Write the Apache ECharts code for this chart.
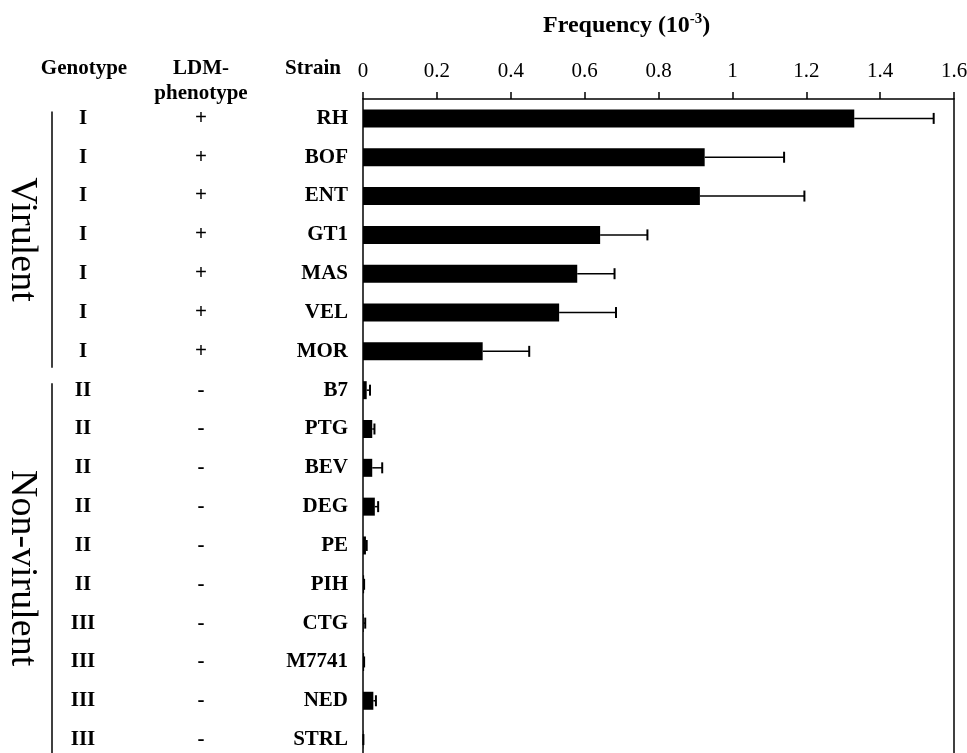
<!DOCTYPE html>
<html>
<head>
<meta charset="utf-8">
<script src="https://cdn.jsdelivr.net/npm/echarts@6/dist/echarts.min.js"></script>
<style>
html,body{margin:0;padding:0;background:#fff;}
#chart{width:967px;height:753px;}
</style>
</head>
<body>
<div id="chart"></div>
<script>
// ---- data ----
const strains = ['RH','BOF','ENT','GT1','MAS','VEL','MOR','B7','PTG','BEV','DEG','PE','PIH','CTG','M7741','NED','STRL'];
const genotypes = ['I','I','I','I','I','I','I','II','II','II','II','II','II','III','III','III','III'];
const phenotypes = ['+','+','+','+','+','+','+','-','-','-','-','-','-','-','-','-','-'];
const frequency = [1.33,0.925,0.912,0.642,0.580,0.531,0.324,0.010,0.025,0.025,0.032,0.008,0.003,0.002,0.003,0.028,0.001];
const errors = [0.215,0.215,0.283,0.128,0.101,0.154,0.126,0.009,0.006,0.027,0.009,0.002,0,0.004,0,0.007,0];
const xMin = 0, xMax = 1.6, xInterval = 0.2;
const groups = [{label:'Virulent', first:0, last:6},{label:'Non-virulent', first:7, last:16}];

const FONT = "'Liberation Serif', 'Times New Roman', serif";
const W = 967, H = 753;
const chart = echarts.init(document.getElementById('chart'));

const errData = strains.map((s,i)=>[i, frequency[i], frequency[i]+errors[i]]);

const option = {
  animation: false,
  backgroundColor: '#fff',
  title: {
    text: '{a|Frequency (10}{b|-3}{a|)}',
    left: 538, top: 7,
    textStyle: {
      rich: {
        a: {fontFamily: FONT, fontWeight: 'bold', fontSize: 24, color: '#000'},
        b: {fontFamily: FONT, fontWeight: 'bold', fontSize: 15, color: '#000', padding: [0,0,12,0]}
      }
    }
  },
  grid: {left: 363, right: 13, top: 99, bottom: -6, containLabel: false, outerBoundsMode: 'none'},
  xAxis: {
    type: 'value', position: 'top', min: xMin, max: xMax, interval: xInterval,
    axisLine: {show: true, lineStyle: {color: '#000', width: 1.5}},
    axisTick: {show: true, inside: false, length: 7, lineStyle: {color: '#000', width: 1.5}},
    splitLine: {show: false},
    axisLabel: {fontFamily: FONT, fontSize: 21, color: '#000', margin: 17, hideOverlap: false}
  },
  yAxis: [
    {
      type: 'category', data: strains, inverse: true, position: 'left',
      axisLine: {show: true, onZero: false, lineStyle: {color: '#000', width: 1.5}},
      axisTick: {show: false},
      axisLabel: {interval: 0, fontFamily: FONT, fontWeight: 'bold', fontSize: 21, color: '#000', margin: 15}
    },
    {
      type: 'category', data: genotypes, inverse: true, position: 'left', offset: 0,
      axisLine: {show: false}, axisTick: {show: false},
      axisLabel: {interval: 0, align: 'center', fontFamily: FONT, fontWeight: 'bold', fontSize: 21, color: '#000', margin: 280}
    },
    {
      type: 'category', data: phenotypes, inverse: true, position: 'left', offset: 0,
      axisLine: {show: false}, axisTick: {show: false},
      axisLabel: {interval: 0, align: 'center', fontFamily: FONT, fontWeight: 'bold', fontSize: 21, color: '#000', margin: 162}
    },
    {
      type: 'category', data: strains, inverse: true, position: 'right',
      axisLine: {show: true, onZero: false, lineStyle: {color: '#000', width: 1.5}},
      axisTick: {show: false}, axisLabel: {show: false}
    }
  ],
  series: [
    {
      type: 'bar', data: frequency, yAxisIndex: 0, barWidth: 18,
      itemStyle: {color: '#000'}
    },
    {
      type: 'custom', yAxisIndex: 0, data: errData, encode: {y: 0, x: [1,2]},
      renderItem: function(params, api){
        const idx = api.value(0);
        const p0 = api.coord([api.value(1), idx]);
        const p1 = api.coord([api.value(2), idx]);
        const h = 5.5;
        return {
          type: 'group',
          children: [
            {type: 'line', shape: {x1: p0[0], y1: p0[1], x2: p1[0], y2: p1[1]}, style: {stroke: '#000', lineWidth: 1.5}},
            {type: 'line', shape: {x1: p1[0], y1: p1[1]-h, x2: p1[0], y2: p1[1]+h}, style: {stroke: '#000', lineWidth: 2}}
          ]
        };
      }
    }
  ]
};
chart.setOption(option);

// headers and group brackets placed from the category scale
const band = chart.convertToPixel({yAxisIndex: 0}, 1) - chart.convertToPixel({yAxisIndex: 0}, 0);
const headerY = 69;
const hdrStyle = (t, x, y, align) => ({
  type: 'text', x: x, y: y,
  style: {text: t, font: "bold 21px " + FONT, fill: '#000', textAlign: align, align: align, textVerticalAlign: 'middle', verticalAlign: 'middle'}
});
const graphics = [
  hdrStyle('Genotype', 84, headerY, 'center'),
  hdrStyle('LDM-', 201, headerY, 'center'),
  hdrStyle('phenotype', 201, headerY + 25, 'center'),
  hdrStyle('Strain', 341, headerY, 'right')
];
groups.forEach(g => {
  const yTop = chart.convertToPixel({yAxisIndex: 0}, g.first) - 7;
  const yBot = chart.convertToPixel({yAxisIndex: 0}, g.last) + band * 0.42;
  graphics.push({type: 'line', shape: {x1: 52, y1: yTop, x2: 52, y2: yBot}, style: {stroke: '#000', lineWidth: 1.5}});
  graphics.push({
    type: 'text', x: 22, y: (yTop + Math.min(yBot, H)) / 2, rotation: -Math.PI / 2,
    style: {text: g.label, font: "38px " + FONT, fill: '#000', textAlign: 'center', align: 'center', textVerticalAlign: 'middle', verticalAlign: 'middle'}
  });
});
chart.setOption({graphic: graphics});
</script>
</body>
</html>
